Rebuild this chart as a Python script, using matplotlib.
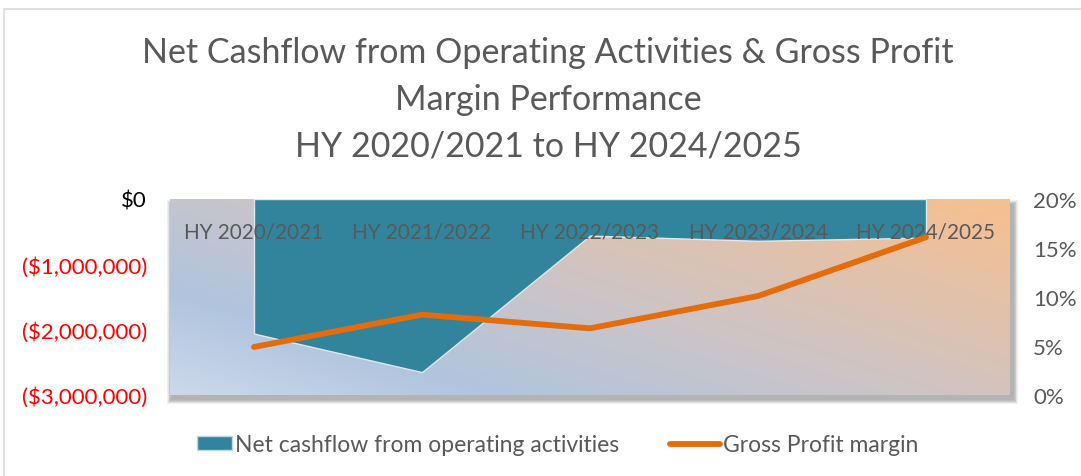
import numpy as np
import matplotlib
matplotlib.use("Agg")
import matplotlib.pyplot as plt
from matplotlib.patches import Rectangle, Patch
from matplotlib.lines import Line2D
from matplotlib.colors import LinearSegmentedColormap
from matplotlib.legend_handler import HandlerPatch

plt.rcParams['font.family'] = ['Lato', 'DejaVu Sans']

categories = ["HY 2020/2021", "HY 2021/2022", "HY 2022/2023", "HY 2023/2024", "HY 2024/2025"]
net_cashflow = [-2060000, -2650000, -560000, -640000, -590000]
gross_margin = [0.049, 0.082, 0.068, 0.101, 0.161]
left_ticks = [0, -1000000, -2000000, -3000000]
left_labels = ["$0", "($1,000,000)", "($2,000,000)", "($3,000,000)"]
right_ticks = [0, 0.05, 0.10, 0.15, 0.20]
right_labels = ["0%", "5%", "10%", "15%", "20%"]
title = "Net Cashflow from Operating Activities & Gross Profit\nMargin Performance\nHY 2020/2021 to HY 2024/2025"

W, H = 1081, 477
fig = plt.figure(figsize=(W / 100, H / 100), dpi=100)

# outer chart border
fig.patches.append(Rectangle((4 / W, -0.1), 1.2, 1 - 10 / H + 0.1, transform=fig.transFigure,
                             fill=False, edgecolor='#d9d9d9', lw=1.2, zorder=-3))

L, R, T, B = 170, 1010, 200, 396
ax = fig.add_axes([L / W, 1 - B / H, (R - L) / W, (B - T) / H])

# soft shadow behind the plot area
for i in range(6):
    grow = i * 0.8
    fig.patches.append(Rectangle(((L + 1 - grow) / W, 1 - (B + 5 + grow) / H),
                                 (R - L + 3 + 2 * grow) / W, (B - T + 2 * grow) / H,
                                 transform=fig.transFigure, facecolor='#303030',
                                 alpha=0.07, edgecolor='none', zorder=-1))

# gradient background
nx, ny = 400, 120
xx, yy = np.meshgrid(np.linspace(0, 1, nx), np.linspace(1, 0, ny))
t = 0.58 * xx + 0.42 * yy
cmap = LinearSegmentedColormap.from_list('bg', [
    (0.0, (0.80, 0.85, 0.92)),
    (0.22, (0.69, 0.77, 0.87)),
    (0.50, (0.80, 0.77, 0.78)),
    (1.0, (0.97, 0.75, 0.56)),
])
ax.imshow(t, extent=[0, 1, 0, 1], transform=ax.transAxes, cmap=cmap, vmin=0, vmax=1,
          aspect='auto', zorder=0, interpolation='bilinear')

x = np.arange(len(categories))
ax.fill_between(x, 0, net_cashflow, facecolor='#31849b', edgecolor='#dde8f0', lw=1.0, zorder=1)
ax.set_xlim(-0.5, len(categories) - 0.5)
ax.set_ylim(-3000000, 0)
ax.set_yticks(left_ticks)
ax.set_yticklabels(left_labels)
for lab, v in zip(ax.get_yticklabels(), left_ticks):
    lab.set_color('black' if v == 0 else '#ff0000')
ax.tick_params(axis='y', length=0, pad=16.5, labelsize=16)
ax.set_xticks(x)
ax.set_xticklabels(categories)
ax.spines['bottom'].set_position(('data', 0))
for s in ax.spines.values():
    s.set_visible(False)
ax.tick_params(axis='x', length=0, pad=16, labelsize=14.9, labelcolor='#595959')

ax2 = ax.twinx()
ax2.plot(x, gross_margin, color='#e46c0a', lw=4.2, solid_capstyle='round', zorder=3)
ax2.set_ylim(0, 0.2)
ax2.set_yticks(right_ticks)
ax2.set_yticklabels(right_labels)
ax2.tick_params(axis='y', length=0, pad=16.5, labelsize=16, labelcolor='#595959')
for s in ax2.spines.values():
    s.set_visible(False)

fig.text(548 / W, 1 - 100 / H, title, ha='center', va='center', fontsize=24.5,
         color='#595959', linespacing=1.56)


def narrow_patch(legend, orig_handle, xdescent, ydescent, width, height, fontsize):
    w = width * 0.68
    return Rectangle((width - w - xdescent, -ydescent), w, height)


handles = [Patch(facecolor='#31849b', edgecolor='#c0d4e4', label="Net cashflow from operating activities"),
           Line2D([], [], color='#e46c0a', lw=4.2, solid_capstyle='round', label="Gross Profit margin")]
fig.legend(handles=handles, loc='center', bbox_to_anchor=(550 / W, 1 - 446 / H), ncol=2,
           frameon=False, fontsize=16.5, labelcolor='#595959', handlelength=2.2,
           handletextpad=0.15, columnspacing=2.2, handleheight=0.55,
           handler_map={Patch: HandlerPatch(patch_func=narrow_patch)})

fig.savefig('out.png', dpi=100)
